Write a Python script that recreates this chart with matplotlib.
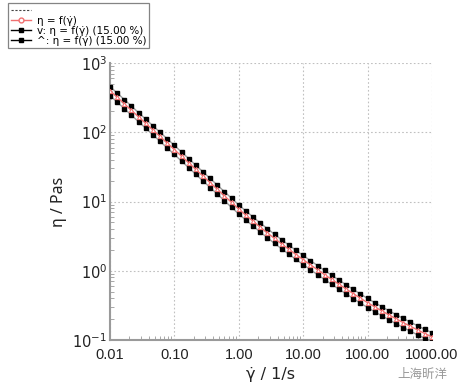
import matplotlib
matplotlib.use("Agg")
import matplotlib.pyplot as plt
from matplotlib.lines import Line2D
import numpy as np

# shear rate grid (1/s), 9 points per decade
shear_rate = np.array([
    0.01, 0.0129, 0.0167, 0.0215, 0.0278, 0.0359, 0.0464, 0.0599, 0.0774,
    0.1, 0.129, 0.167, 0.215, 0.278, 0.359, 0.464, 0.599, 0.774,
    1.0, 1.29, 1.67, 2.15, 2.78, 3.59, 4.64, 5.99, 7.74,
    10.0, 12.9, 16.7, 21.5, 27.8, 35.9, 46.4, 59.9, 77.4,
    100.0, 129.0, 167.0, 215.0, 278.0, 359.0, 464.0, 599.0, 774.0,
    1000.0])

# log10 of viscosity (Pa s)
log_eta = np.array([
    2.600, 2.506, 2.411, 2.317, 2.222, 2.128, 2.033, 1.939, 1.844,
    1.750, 1.654, 1.559, 1.463, 1.368, 1.272, 1.177, 1.081, 0.986,
    0.890, 0.802, 0.715, 0.630, 0.547, 0.466, 0.387, 0.310, 0.234,
    0.160, 0.087, 0.015, -0.056, -0.126, -0.195, -0.263, -0.330, -0.396,
    -0.460, -0.521, -0.580, -0.638, -0.694, -0.749, -0.803, -0.855, -0.906,
    -0.955])
eta = 10 ** log_eta

# tolerance band from the legend (15.00 %)
tol = 0.15
eta_low = eta * (1 - tol)
eta_high = eta * (1 + tol)

xticks = [0.01, 0.1, 1, 10, 100, 1000]
xticklabels = ["0.01", "0.10", "1.00", "10.00", "100.00", "1000.00"]
yticks = [0.1, 1, 10, 100, 1000]

plt.rcParams['font.family'] = ['Liberation Sans', 'DejaVu Sans']

fig = plt.figure(figsize=(4.61, 3.87), dpi=100)
ax = fig.add_axes([0.2386, 0.1214, 0.6984, 0.7158])

gray = "#9a9a9a"
# black tolerance curves
for band in (eta_low, eta_high):
    ax.plot(shear_rate, band, color="white", lw=2.6, zorder=2)
    ax.plot(shear_rate, band, color=gray, lw=1.0, marker="s", ms=3.1,
            mfc="black", mec="black", zorder=3)
# red measured curve
ax.plot(shear_rate, eta, color="#f07070", lw=1.0, marker="^", ms=3.0,
        mfc="white", mec="#f07070", mew=0.8, zorder=4)

ax.set_xscale("log")
ax.set_yscale("log")
ax.set_xlim(0.01, 1000)
ax.set_ylim(0.1, 1000)
ax.set_xticks(xticks)
ax.set_xticklabels(xticklabels)
ax.set_yticks(yticks)
ax.set_yticklabels(["$10^{-1}$", "$10^{0}$", "$10^{1}$", "$10^{2}$", "$10^{3}$"])
ax.tick_params(which="both", direction="in", colors=gray, labelcolor="#222222",
               labelsize=10.5)
ax.tick_params(which="major", length=0)
ax.tick_params(axis="x", which="major", pad=6)
ax.tick_params(axis="y", which="major", pad=2)
ax.tick_params(which="minor", length=3)
ax.grid(True, which="major", color="#c0c0c0", ls=(0, (1.5, 2)), lw=0.8)

for s in ("top", "right"):
    ax.spines[s].set_visible(False)
for s in ("left", "bottom"):
    ax.spines[s].set_color(gray)
    ax.spines[s].set_linewidth(1.5)

ax.set_xlabel("\u03b3\u0307 / 1/s", fontsize=11.5, family=["DejaVu Sans"],
              color="#222222", labelpad=3)
ax.set_ylabel("\u03b7 / Pas", fontsize=11.5, family=["Noto Sans", "DejaVu Sans"],
              color="#222222", labelpad=4)

handles = [
    Line2D([], [], color="#444444", ls=(0, (2, 1.5)), lw=0.8),
    Line2D([], [], color="#f07070", lw=1.0, marker="o", ms=3.5, mfc="white",
           mec="#f07070"),
    Line2D([], [], color="black", lw=1.0, marker="s", ms=3.5),
    Line2D([], [], color="black", lw=1.0, marker="s", ms=3.5),
]
labels = ["", "\u03b7 = f(\u03b3\u0307)", "v: \u03b7 = f(\u03b3\u0307) (15.00 %)",
          "^: \u03b7 = f(\u03b3\u0307) (15.00 %)"]
leg = fig.legend(handles, labels, loc="upper left",
                 bbox_to_anchor=(8 / 461, 1 - 3 / 387),
                 prop={"family": ["DejaVu Sans"], "size": 7.5},
                 frameon=True, fancybox=False, edgecolor="#666666",
                 handlelength=2.0, handletextpad=0.5, labelspacing=0.0,
                 borderpad=0.25, borderaxespad=0)
leg.get_frame().set_linewidth(0.9)

fig.text(447 / 461, 1 - 374 / 387, "\u4e0a\u6d77\u6615\u6d0b", ha="right", va="center",
         fontsize=9, color="#999999", family=["Noto Sans CJK SC", "DejaVu Sans"])

fig.savefig("out.png", dpi=100)
